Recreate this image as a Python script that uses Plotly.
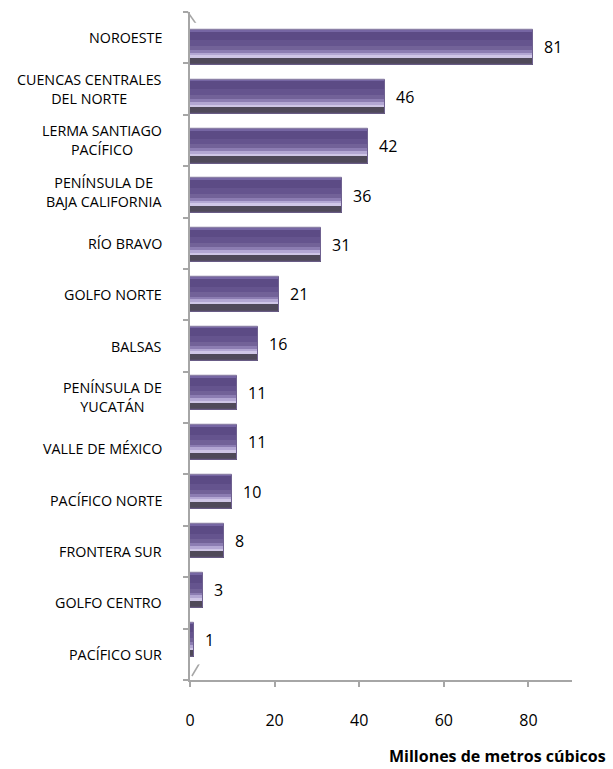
import plotly.graph_objects as go

# Categories listed bottom-to-top, with volumes in millions of cubic metres
regions = [
    "PACÍFICO SUR",
    "GOLFO CENTRO",
    "FRONTERA SUR",
    "PACÍFICO NORTE",
    "VALLE DE MÉXICO",
    "PENÍNSULA DE<br>YUCATÁN",
    "BALSAS",
    "GOLFO NORTE",
    "RÍO BRAVO",
    "PENÍNSULA DE<br>BAJA CALIFORNIA",
    "LERMA SANTIAGO<br>PACÍFICO",
    "CUENCAS CENTRALES<br>DEL NORTE",
    "NOROESTE",
]
volumes = [1, 3, 8, 10, 11, 11, 16, 21, 31, 36, 42, 46, 81]

x_ticks = [0, 20, 40, 60, 80]
x_title = "Millones de metros cúbicos"

FONT = "Open Sans, Carlito, sans-serif"

# Horizontal shading bands (top fraction, bottom fraction, colour) giving a bevelled bar look
bands = [
    (0.00, 0.05, "#7666a3"),
    (0.05, 0.28, "#5c4b85"),
    (0.28, 0.44, "#65548e"),
    (0.44, 0.56, "#726298"),
    (0.56, 0.64, "#8c7db2"),
    (0.64, 0.72, "#b3a7d3"),
    (0.72, 0.79, "#cfc6e6"),
    (0.79, 1.00, "#4f4959"),
]
thickness = 0.70

W, H = 613, 769
left, right, top, bottom = 190, 41, 12, 89
plot_w = W - left - right
plot_h = H - top - bottom

fig = go.Figure()

for f0, f1, col in bands:
    fig.add_trace(go.Bar(
        x=volumes,
        y=regions,
        orientation="h",
        yaxis="y2",
        width=(f1 - f0) * thickness,
        offset=thickness / 2 - f1 * thickness,
        marker=dict(color=col, line=dict(width=0)),
        hoverinfo="skip",
        showlegend=False,
    ))

# Thin outline around each bar
fig.add_trace(go.Bar(
    x=volumes,
    y=regions,
    orientation="h",
    yaxis="y2",
    width=thickness,
    offset=-thickness / 2,
    marker=dict(color="rgba(0,0,0,0)", line=dict(color="#6f6190", width=1)),
    hoverinfo="skip",
    showlegend=False,
))

annotations = []
# Value labels beside each bar
for v, r in zip(volumes, regions):
    annotations.append(dict(
        x=v, y=r, xref="x", yref="y2",
        text=str(v), showarrow=False,
        xanchor="left", xshift=9,
        font=dict(family=FONT, size=16, color="#000000"),
    ))
# Category labels, lines centred on each other
for r in regions:
    annotations.append(dict(
        x=(164 - left) / plot_w, y=r, xref="paper", yref="y",
        text=r, showarrow=False, xanchor="right", align="center",
        font=dict(family=FONT, size=14.3, color="#000000"),
    ))
annotations.append(dict(
    x=(607 - left) / plot_w, y=(680 - 756) / plot_h,
    xref="paper", yref="paper", text="<b>%s</b>" % x_title, showarrow=False,
    xanchor="right", yanchor="middle", borderpad=0,
    font=dict(family=FONT, size=16, color="#000000"),
))

# Wall edges of the 3D frame
wall = "#a6a6a6"
shapes = [
    dict(type="line", xref="paper", yref="paper",
         x0=-0.006, y0=1.0, x1=0.018, y1=(680 - 25) / plot_h,
         line=dict(color=wall, width=1.5), layer="below"),
    dict(type="line", xref="paper", yref="paper",
         x0=0.018, y0=(680 - 25) / plot_h, x1=0.033, y1=(680 - 658) / plot_h,
         line=dict(color="#d0d0d0", width=1.2), layer="below"),
    dict(type="line", xref="paper", yref="paper",
         x0=0.005, y0=(680 - 676) / plot_h, x1=0.033, y1=(680 - 658) / plot_h,
         line=dict(color=wall, width=1.5), layer="below"),
]

fig.update_layout(
    width=W, height=H,
    margin=dict(l=left, r=right, t=top, b=bottom),
    paper_bgcolor="white", plot_bgcolor="white",
    barmode="overlay",
    bargap=0,
    xaxis=dict(
        range=[0, (572 - left) / 4.23],
        tickvals=x_ticks,
        ticks="outside", ticklen=5, tickwidth=2, tickcolor=wall,
        showline=True, linecolor=wall, linewidth=2,
        showgrid=False, zeroline=False,
        tickfont=dict(family=FONT, size=16, color="#000000"),
        ticklabelstandoff=20,
        fixedrange=True,
    ),
    yaxis=dict(
        type="category",
        categoryarray=regions, categoryorder="array",
        range=[-0.5, len(regions) - 0.5],
        domain=[0, 1],
        tickson="boundaries",
        ticks="outside", ticklen=5, tickwidth=2, tickcolor=wall,
        showticklabels=False,
        showline=True, linecolor=wall, linewidth=2,
        showgrid=False, zeroline=False,
        fixedrange=True,
    ),
    yaxis2=dict(
        type="category",
        categoryarray=regions, categoryorder="array",
        range=[-0.5, len(regions) - 0.5],
        domain=[(680 - 664.4) / plot_h, (680 - 22.8) / plot_h],
        anchor="x",
        visible=False,
        fixedrange=True,
    ),
    annotations=annotations,
    shapes=shapes,
)

# Register the label-axis categories with an invisible trace
fig.add_trace(go.Scatter(x=[None] * len(regions), y=regions, yaxis="y",
                         mode="markers", showlegend=False, hoverinfo="skip"))

fig.write_html("out.html")
